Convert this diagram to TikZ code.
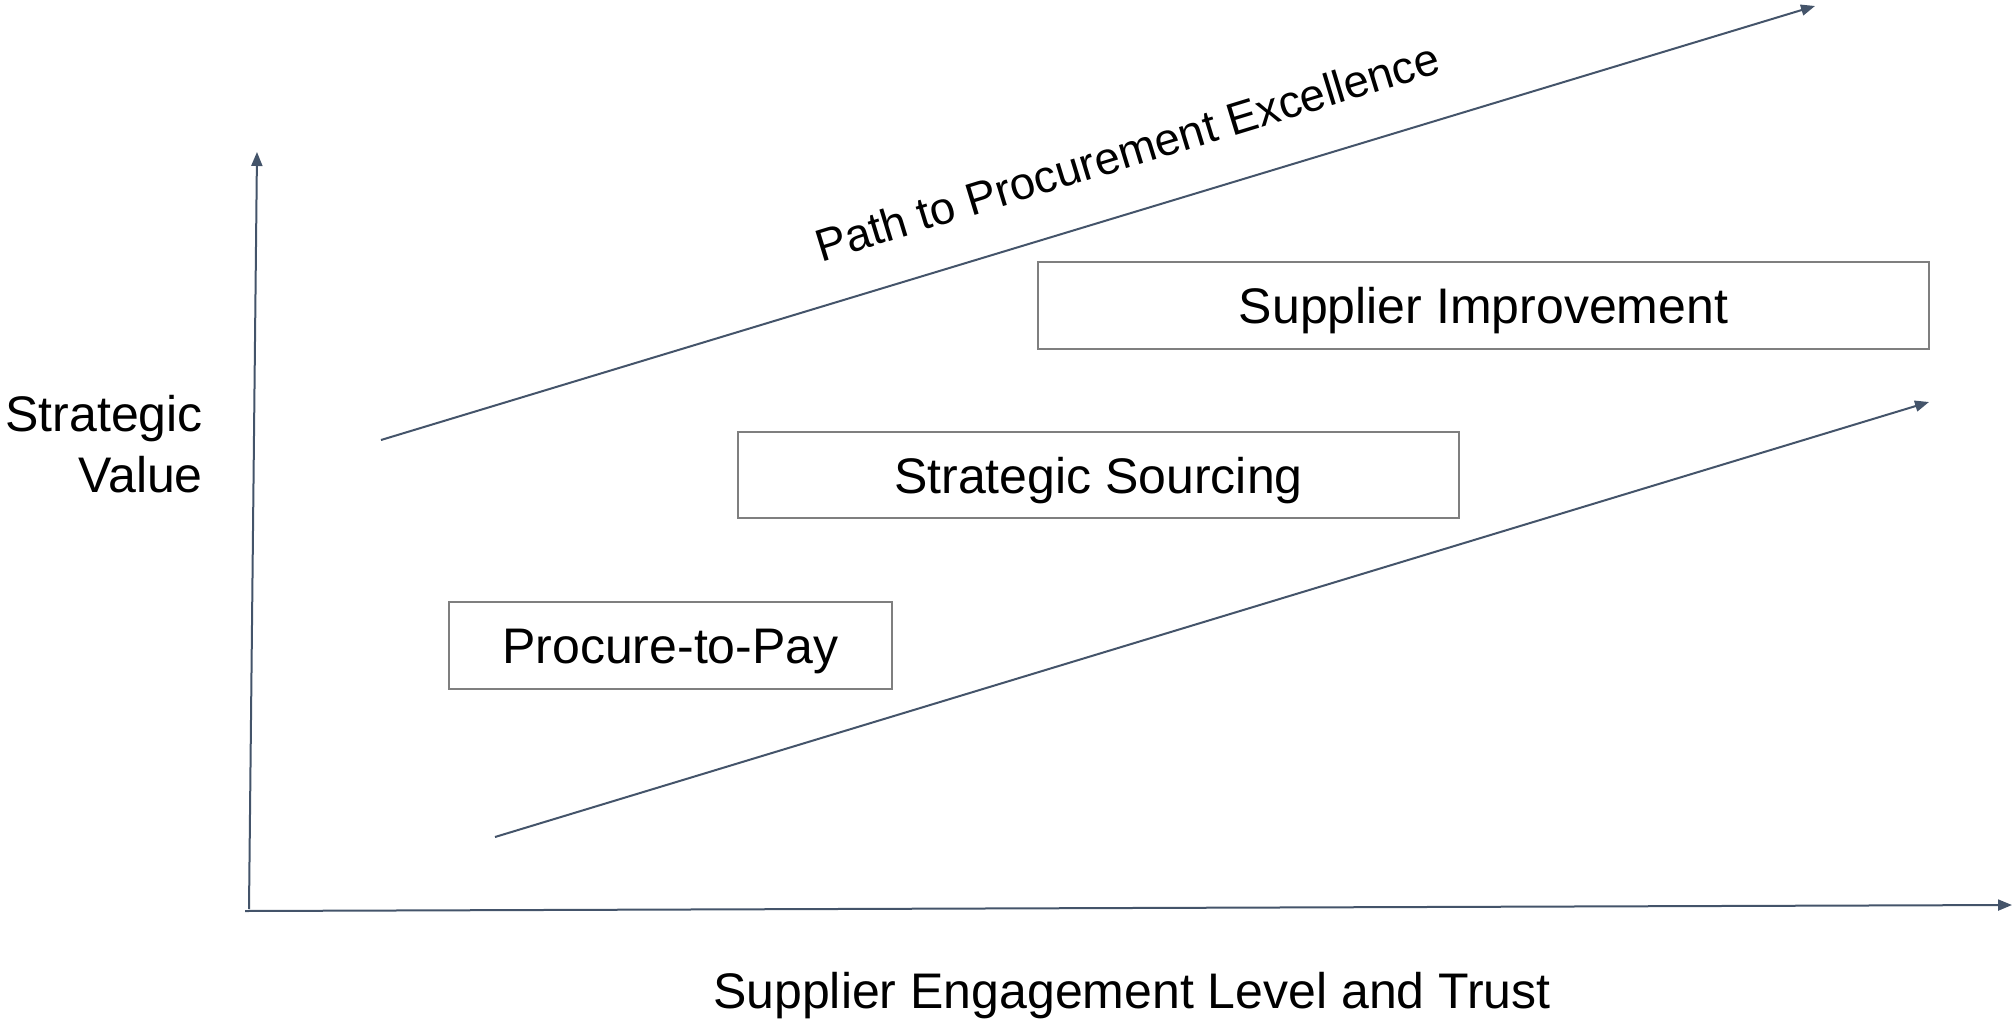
\documentclass[tikz,border=0pt]{standalone}
\usepackage{fontspec}
\setmainfont{Liberation Sans}
\usetikzlibrary{arrows.meta}
\definecolor{slate}{HTML}{44546A}
\definecolor{boxgray}{HTML}{7F7F7F}
\begin{document}
\begin{tikzpicture}[x=1pt,y=-1pt,
  axis/.style={draw=slate,line width=2pt,-{Triangle[length=14pt,width=11pt]}},
  stagebox/.style={draw=boxgray,line width=2pt,fill=white,inner sep=0pt,
    text height=36pt,text depth=0pt,
    font=\fontsize{50}{60}\selectfont},
  lbl/.style={inner sep=0pt,font=\fontsize{50}{61}\selectfont}]
\useasboundingbox (0,0) rectangle (2012,1020);
% axes
\coordinate (yo) at (249,909);
\coordinate (yt) at (257,152);
\coordinate (xo) at (245,911);
\coordinate (xt) at (2012,905);
\draw[axis] (yo) -- (yt);
\draw[axis] (xo) -- (xt);
% path arrows
\coordinate (u1) at (381,440);
\coordinate (u2) at (1815,6);
\coordinate (l1) at (495,837);
\coordinate (l2) at (1929,402);
\draw[axis] (u1) -- (u2);
\draw[axis] (l1) -- (l2);
% boxes
\node[stagebox,minimum width=891pt,minimum height=87pt] (si) at (1483.5,305.5) {Supplier Improvement};
\node[stagebox,minimum width=721pt,minimum height=86pt] (ss) at (1098.5,475) {Strategic Sourcing};
\node[stagebox,minimum width=443pt,minimum height=87pt] (pp) at (670.5,645.5) {Procure-to-Pay};
% labels
\node[lbl,align=right,anchor=east] (yl) at (203,444) {Strategic\\Value};
\node[lbl] (xl) at (1132,996) {Supplier Engagement Level and Trust};
\node[inner sep=0pt,anchor=base,rotate=17,font=\fontsize{45.5}{54}\selectfont] (pt) at (1132,167) {Path to Procurement Excellence};
\end{tikzpicture}
\end{document}
